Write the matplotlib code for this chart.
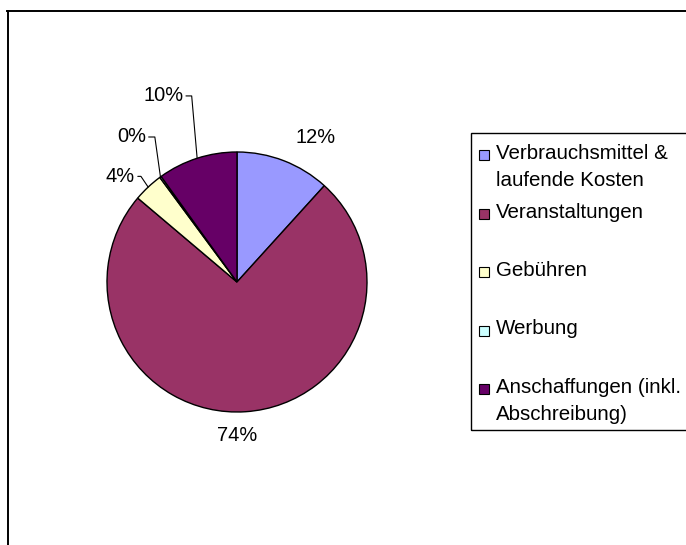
import numpy as np
import matplotlib.pyplot as plt
from matplotlib.patches import Rectangle
from matplotlib.lines import Line2D

# data
categories = ['Verbrauchsmittel &\nlaufende Kosten', 'Veranstaltungen', 'Gebühren',
              'Werbung', 'Anschaffungen (inkl.\nAbschreibung)']
shares = [11.7, 74.3, 3.7, 0.2, 9.9]
colors = ['#9999FF', '#993366', '#FFFFCC', '#CCFFFF', '#660066']

# label placement (radius factor, angle shift in deg, leader line angle or None)
label_r = [1.27, 1.18, 1.21, 1.38, 1.54]
label_shift = [-7.5, -3.8, 4.7, 0.0, 3.8]
leader_angle = [None, None, 124, 98, 95]

plt.rcParams['font.family'] = ['Liberation Sans', 'DejaVu Sans']
FS = 14.4
FS_LEG = 14.8

W, H = 686, 545
fig = plt.figure(figsize=(W / 100, H / 100), dpi=100)

# pie centre at (237, 282) px, radius 130 px
cx, cy, R, half = 237, 282, 130, 200
ax = fig.add_axes([(cx - half) / W, (H - cy - half) / H, 2 * half / W, 2 * half / H])
wedges, _ = ax.pie(shares, colors=colors, startangle=90, counterclock=False, radius=1,
                   wedgeprops=dict(edgecolor='black', linewidth=1))
lim = half / R
ax.set_xlim(-lim, lim)
ax.set_ylim(-lim, lim)
ax.set_aspect('equal')
ax.axis('off')

total = sum(shares)
for i, w in enumerate(wedges):
    mid = np.deg2rad((w.theta1 + w.theta2) / 2)
    ang = np.deg2rad((w.theta1 + w.theta2) / 2 + label_shift[i])
    txt = f"{round(100 * shares[i] / total):.0f}%"
    tx, ty = label_r[i] * np.cos(ang), label_r[i] * np.sin(ang)
    if leader_angle[i] is None:
        ax.text(tx, ty, txt, ha='center', va='center', fontsize=FS)
    else:
        ax.annotate(txt, xy=(np.cos(mid), np.sin(mid)), xytext=(tx, ty),
                    ha='center', va='center', fontsize=FS,
                    arrowprops=dict(arrowstyle='-', lw=0.8, color='black',
                                    shrinkA=0, shrinkB=0,
                                    connectionstyle=f'angle,angleA=0,angleB={leader_angle[i]},rad=0'))

# outer chart frame (cut off at right and bottom)
fig.add_artist(Line2D([7.5 / W, 7.5 / W], [0, 1 - 11 / H], color='black', lw=1.4,
                      transform=fig.transFigure))
fig.add_artist(Line2D([7 / W, 1], [1 - 11 / H, 1 - 11 / H], color='black', lw=1.4,
                      transform=fig.transFigure))

# legend box
fig.add_artist(Rectangle((471 / W, 1 - 430 / H), 1, (430 - 133) / H, fill=False,
                         edgecolor='black', lw=1, transform=fig.transFigure))
for i, (lab, col) in enumerate(zip(categories, colors)):
    ry = 155 + i * 58.5
    fig.add_artist(Rectangle((479 / W, 1 - (ry + 5) / H), 10 / W, 10 / H, facecolor=col,
                             edgecolor='black', lw=0.8, transform=fig.transFigure))
    fig.text(496 / W, 1 - (ry - 11) / H, lab, ha='left', va='top', fontsize=FS_LEG,
             linespacing=1.52)

fig.savefig('out.png', dpi=100)
